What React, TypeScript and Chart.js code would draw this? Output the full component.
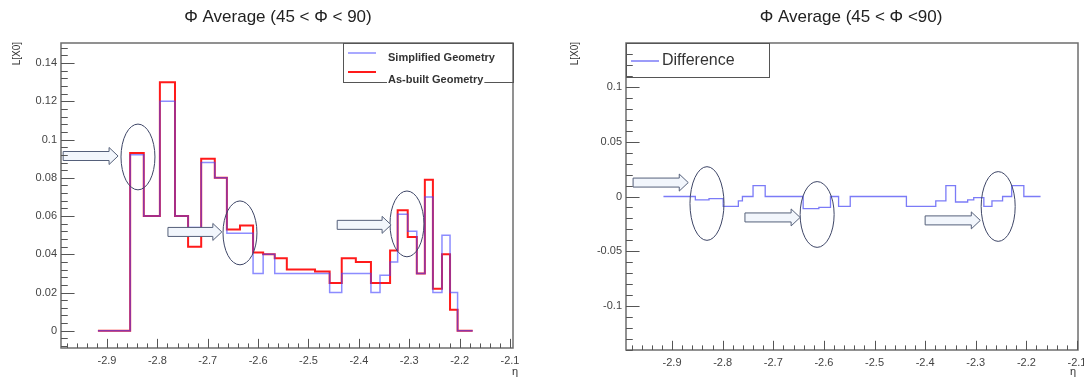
import React, { useEffect, useRef } from "react";
import { Chart, registerables } from "chart.js";

Chart.register(...registerables);

// ---------- data ----------
const ETA_EDGES = [
  -2.918, -2.854, -2.827, -2.795, -2.765, -2.739, -2.713, -2.686, -2.662, -2.636,
  -2.61, -2.59, -2.567, -2.543, -2.517, -2.487, -2.458, -2.434, -2.406, -2.376,
  -2.358, -2.338, -2.323, -2.303, -2.285, -2.269, -2.253, -2.235, -2.219, -2.204, -2.174,
];
const SIMPLIFIED = [
  0, 0.092, 0.06, 0.12, 0.06, 0.054, 0.088, 0.08, 0.051, 0.051,
  0.03, 0.04, 0.03, 0.03, 0.03, 0.03, 0.02, 0.03, 0.03, 0.02,
  0.029, 0.036, 0.061, 0.052, 0.03, 0.07, 0.02, 0.05, 0.02, 0,
];
const AS_BUILT = [
  0, 0.093, 0.06, 0.13, 0.06, 0.044, 0.09, 0.08, 0.053, 0.055,
  0.041, 0.04, 0.038, 0.032, 0.032, 0.031, 0.025, 0.038, 0.036, 0.025,
  0.025, 0.042, 0.063, 0.049, 0.03, 0.079, 0.022, 0.04, 0.011, 0,
];
const DIFF_EDGES = [
  -2.917, -2.854, -2.827, -2.799, -2.769, -2.761, -2.74, -2.716, -2.641, -2.61,
  -2.587, -2.571, -2.548, -2.437, -2.379, -2.359, -2.34, -2.316, -2.304, -2.284,
  -2.268, -2.247, -2.229, -2.205, -2.172,
];
const DIFFERENCE = [
  0, -0.003, -0.002, -0.009, -0.004, 0, 0.01, 0, -0.011, -0.01,
  0, -0.009, 0, -0.009, -0.004, 0.01, -0.005, -0.003, -0.001, -0.009,
  -0.004, 0, 0.01, 0,
];
const X_TICKS = [-2.9, -2.8, -2.7, -2.6, -2.5, -2.4, -2.3, -2.2, -2.1];
const Y_TICKS_LEFT = [0, 0.02, 0.04, 0.06, 0.08, 0.1, 0.12, 0.14];
const Y_TICKS_RIGHT = [-0.1, -0.05, 0, 0.05, 0.1];
const TITLE_LEFT = "\u03A6 Average (45 < \u03A6 < 90)";
const TITLE_RIGHT = "\u03A6 Average (45 < \u03A6 <90)";
const LEGEND_LEFT = ["Simplified Geometry", "As-built Geometry"];
const LEGEND_RIGHT = ["Difference"];
const Y_TITLE = "L[X0]";
const X_TITLE = "\u03B7";

// annotation overlays (data coordinates)
const ELLIPSES_LEFT = [
  { cx: -2.8385, cy: 0.0909, rx: 0.0337, ry: 0.0172 },
  { cx: -2.636, cy: 0.0512, rx: 0.0337, ry: 0.0167 },
  { cx: -2.3045, cy: 0.0559, rx: 0.0337, ry: 0.0172 },
];
const ARROWS_LEFT = [
  { x0: -2.987, x1: -2.878, y: 0.0914 },
  { x0: -2.779, x1: -2.672, y: 0.0517 },
  { x0: -2.443, x1: -2.336, y: 0.0554 },
];
const ELLIPSES_RIGHT = [
  { cx: -2.831, cy: -0.0064, rx: 0.0336, ry: 0.0336 },
  { cx: -2.6134, cy: -0.0164, rx: 0.0336, ry: 0.03 },
  { cx: -2.2557, cy: -0.0091, rx: 0.0336, ry: 0.0318 },
];
const ARROWS_RIGHT = [
  { x0: -2.977, x1: -2.868, y: 0.0127 },
  { x0: -2.756, x1: -2.647, y: -0.0191 },
  { x0: -2.4, x1: -2.291, y: -0.0218 },
];

const BLUE = "rgba(70,70,255,0.62)";
const RED = "#ff1a1a";
const DIFF_BLUE = "rgba(90,90,245,0.8)";

function steps(edges: number[], vals: number[]) {
  const pts = vals.map((v, i) => ({ x: edges[i], y: v }));
  pts.push({ x: edges[edges.length - 1], y: vals[vals.length - 1] });
  return pts;
}

const fmt = (v: number) => String(+Number(v).toFixed(4));

type Ov = {
  title: string;
  titleX: number;
  yTitleX: number;
  xTitleX: number;
  xMinor: number;
  yMinor: number;
  legend: { label: string; color: string; width: number; lineY: number; textY: number }[];
  legendBox: { fromRight: boolean; w: number; h: number };
  legendFont: string;
  legendTextDx: number;
  ellipses: { cx: number; cy: number; rx: number; ry: number }[];
  arrows: { x0: number; x1: number; y: number }[];
};

function overlay(o: Ov) {
  return {
    id: "rootStyle",
    afterDraw(chart: any) {
      const ctx = chart.ctx;
      const a = chart.chartArea;
      const xs = chart.scales.x;
      const ys = chart.scales.y;
      ctx.save();
      // ellipses
      ctx.strokeStyle = "#3d4566";
      ctx.lineWidth = 1;
      for (const e of o.ellipses) {
        const cx = xs.getPixelForValue(e.cx);
        const cy = ys.getPixelForValue(e.cy);
        const rx = Math.abs(xs.getPixelForValue(e.cx + e.rx) - cx);
        const ry = Math.abs(ys.getPixelForValue(e.cy + e.ry) - cy);
        ctx.beginPath();
        ctx.ellipse(cx, cy, rx, ry, 0, 0, Math.PI * 2);
        ctx.stroke();
      }
      // block arrows
      for (const ar of o.arrows) {
        const x0 = xs.getPixelForValue(ar.x0);
        const x1 = xs.getPixelForValue(ar.x1);
        const y = ys.getPixelForValue(ar.y);
        const hl = 9, sh = 4.5, hh = 8.5;
        ctx.beginPath();
        ctx.moveTo(x0, y - sh);
        ctx.lineTo(x1 - hl, y - sh);
        ctx.lineTo(x1 - hl, y - hh);
        ctx.lineTo(x1, y);
        ctx.lineTo(x1 - hl, y + hh);
        ctx.lineTo(x1 - hl, y + sh);
        ctx.lineTo(x0, y + sh);
        ctx.closePath();
        ctx.fillStyle = "#f2f6fc";
        ctx.fill();
        ctx.strokeStyle = "#55607a";
        ctx.stroke();
      }
      // frame
      ctx.strokeStyle = "#6e6e6e";
      ctx.lineWidth = 1.5;
      ctx.strokeRect(a.left, a.top, a.right - a.left, a.bottom - a.top);
      // ticks
      ctx.strokeStyle = "#555";
      ctx.lineWidth = 1;
      const w = a.right - a.left;
      const h = a.bottom - a.top;
      const yMaj = 0.03 * w, yMin = 0.015 * w;
      const xMaj = 0.03 * h, xMin = 0.015 * h;
      ctx.beginPath();
      const kx0 = Math.ceil(xs.min / o.xMinor - 1e-6), kx1 = Math.floor(xs.max / o.xMinor + 1e-6);
      for (let k = kx0; k <= kx1; k++) {
        const v = k * o.xMinor;
        const isMaj = X_TICKS.some((t) => Math.abs(t - v) < 1e-6);
        const px = Math.round(xs.getPixelForValue(v)) + 0.5;
        ctx.moveTo(px, a.bottom);
        ctx.lineTo(px, a.bottom - (isMaj ? xMaj : xMin));
      }
      const ky0 = Math.ceil(ys.min / o.yMinor - 1e-6), ky1 = Math.floor(ys.max / o.yMinor + 1e-6);
      const yTicks = ys.ticks.map((t: any) => t.value);
      for (let k = ky0; k <= ky1; k++) {
        const v = k * o.yMinor;
        const isMaj = yTicks.some((t: number) => Math.abs(t - v) < 1e-6);
        const py = Math.round(ys.getPixelForValue(v)) + 0.5;
        ctx.moveTo(a.left, py);
        ctx.lineTo(a.left + (isMaj ? yMaj : yMin), py);
      }
      ctx.stroke();
      // title
      ctx.fillStyle = "#222";
      ctx.font = "17px 'Liberation Sans', Arial, sans-serif";
      ctx.textAlign = "center";
      ctx.textBaseline = "middle";
      ctx.fillText(o.title, o.titleX, 17);
      // axis titles
      ctx.fillStyle = "#333";
      ctx.font = "10px 'Liberation Sans', Arial, sans-serif";
      ctx.save();
      ctx.translate(o.yTitleX, a.top - 1);
      ctx.rotate(-Math.PI / 2);
      ctx.textAlign = "right";
      ctx.textBaseline = "middle";
      ctx.fillText(Y_TITLE, 0, 0);
      ctx.restore();
      ctx.font = "11px 'Liberation Sans', Arial, sans-serif";
      ctx.textAlign = "center";
      ctx.fillText(X_TITLE, o.xTitleX, 372);
      // legend
      const lb = o.legendBox;
      const bx = lb.fromRight ? a.right - lb.w : a.left;
      const by = a.top;
      ctx.strokeStyle = "#555";
      ctx.lineWidth = 1;
      ctx.strokeRect(bx + 0.5, by + 0.5, lb.w, lb.h);
      ctx.font = o.legendFont;
      ctx.textAlign = "left";
      ctx.textBaseline = "middle";
      for (const it of o.legend) {
        ctx.strokeStyle = it.color;
        ctx.lineWidth = it.width;
        ctx.beginPath();
        ctx.moveTo(bx + 5, by + it.lineY);
        ctx.lineTo(bx + 33, by + it.lineY);
        ctx.stroke();
        const tw = ctx.measureText(it.label).width;
        ctx.fillStyle = "#fff";
        ctx.fillRect(bx + o.legendTextDx - 1, by + it.textY - 6, tw + 2, 12);
        ctx.fillStyle = "#333";
        ctx.fillText(it.label, bx + o.legendTextDx, by + it.textY);
      }
      ctx.restore();
    },
  };
}

function baseScales(xmin: number, xmax: number, ymin: number, ymax: number, yTicks: number[], yWidth: number, xHeight: number) {
  const tickFont = { family: "'Liberation Sans', Arial, sans-serif", size: 11 };
  return {
    x: {
      type: "linear",
      min: xmin,
      max: xmax,
      grid: { display: false, drawTicks: false },
      border: { display: false },
      ticks: { font: tickFont, color: "#444", padding: 6, autoSkip: false, maxRotation: 0, callback: (v: number) => fmt(v) },
      afterBuildTicks: (s: any) => {
        s.ticks = X_TICKS.map((v) => ({ value: v }));
      },
      afterFit: (s: any) => {
        s.height = xHeight;
        s.paddingLeft = 0;
        s.paddingRight = 0;
      },
    },
    y: {
      type: "linear",
      min: ymin,
      max: ymax,
      grid: { display: false, drawTicks: false },
      border: { display: false },
      ticks: { font: tickFont, color: "#444", padding: 4, autoSkip: false, callback: (v: number) => fmt(v) },
      afterBuildTicks: (s: any) => {
        s.ticks = yTicks.map((v) => ({ value: v }));
      },
      afterFit: (s: any) => {
        s.width = yWidth;
        s.paddingTop = 0;
        s.paddingBottom = 0;
      },
    },
  };
}

export default function App() {
  const leftRef = useRef<HTMLCanvasElement>(null);
  const rightRef = useRef<HTMLCanvasElement>(null);

  useEffect(() => {
    const left = new Chart(leftRef.current as HTMLCanvasElement, {
      type: "line",
      data: {
        datasets: [
          { label: LEGEND_LEFT[0], data: steps(ETA_EDGES, SIMPLIFIED), borderColor: BLUE, borderWidth: 1.5, stepped: "before", pointRadius: 0, fill: false },
          { label: LEGEND_LEFT[1], data: steps(ETA_EDGES, AS_BUILT), borderColor: RED, borderWidth: 2, stepped: "before", pointRadius: 0, fill: false },
        ],
      } as any,
      options: {
        animation: false,
        responsive: false,
        devicePixelRatio: 1,
        layout: { padding: { left: 6, right: 29, top: 43, bottom: 6 } },
        plugins: { legend: { display: false }, tooltip: { enabled: false }, title: { display: false } },
        scales: baseScales(-2.9913, -2.094, -0.009, 0.1505, Y_TICKS_LEFT, 55, 25) as any,
      },
      plugins: [
        overlay({
          title: TITLE_LEFT,
          titleX: 278,
          yTitleX: 17,
          xTitleX: 515,
          xMinor: 0.02,
          yMinor: 0.004,
          legend: [
            { label: LEGEND_LEFT[0], color: BLUE, width: 1.5, lineY: 10, textY: 15 },
            { label: LEGEND_LEFT[1], color: RED, width: 2, lineY: 29, textY: 37 },
          ],
          legendBox: { fromRight: true, w: 170, h: 39 },
          legendFont: "bold 11px 'Liberation Sans', Arial, sans-serif",
          legendTextDx: 45,
          ellipses: ELLIPSES_LEFT,
          arrows: ARROWS_LEFT,
        }),
      ],
    });

    const right = new Chart(rightRef.current as HTMLCanvasElement, {
      type: "line",
      data: {
        datasets: [
          { label: LEGEND_RIGHT[0], data: steps(DIFF_EDGES, DIFFERENCE), borderColor: DIFF_BLUE, borderWidth: 1.3, stepped: "before", pointRadius: 0, fill: false },
        ],
      } as any,
      options: {
        animation: false,
        responsive: false,
        devicePixelRatio: 1,
        layout: { padding: { left: 6, right: 24, top: 43, bottom: 6 } },
        plugins: { legend: { display: false }, tooltip: { enabled: false }, title: { display: false } },
        scales: baseScales(-2.991, -2.098, -0.14, 0.14, Y_TICKS_RIGHT, 78, 23) as any,
      },
      plugins: [
        overlay({
          title: TITLE_RIGHT,
          titleX: 309,
          yTitleX: 33,
          xTitleX: 531,
          xMinor: 0.02,
          yMinor: 0.01,
          legend: [{ label: LEGEND_RIGHT[0], color: DIFF_BLUE, width: 1.5, lineY: 18, textY: 18 }],
          legendBox: { fromRight: false, w: 143, h: 34 },
          legendFont: "16px 'Liberation Sans', Arial, sans-serif",
          legendTextDx: 36,
          ellipses: ELLIPSES_RIGHT,
          arrows: ARROWS_RIGHT,
        }),
      ],
    });

    return () => {
      left.destroy();
      right.destroy();
    };
  }, []);

  return (
    <div style={{ position: "fixed", left: 0, top: 0, width: 1084, height: 379, overflow: "hidden", background: "#fff" }}>
      <canvas ref={leftRef} width={542} height={379} style={{ position: "absolute", left: 0, top: 0, width: 542, height: 379 }} />
      <canvas ref={rightRef} width={560} height={379} style={{ position: "absolute", left: 542, top: 0, width: 560, height: 379 }} />
    </div>
  );
}
